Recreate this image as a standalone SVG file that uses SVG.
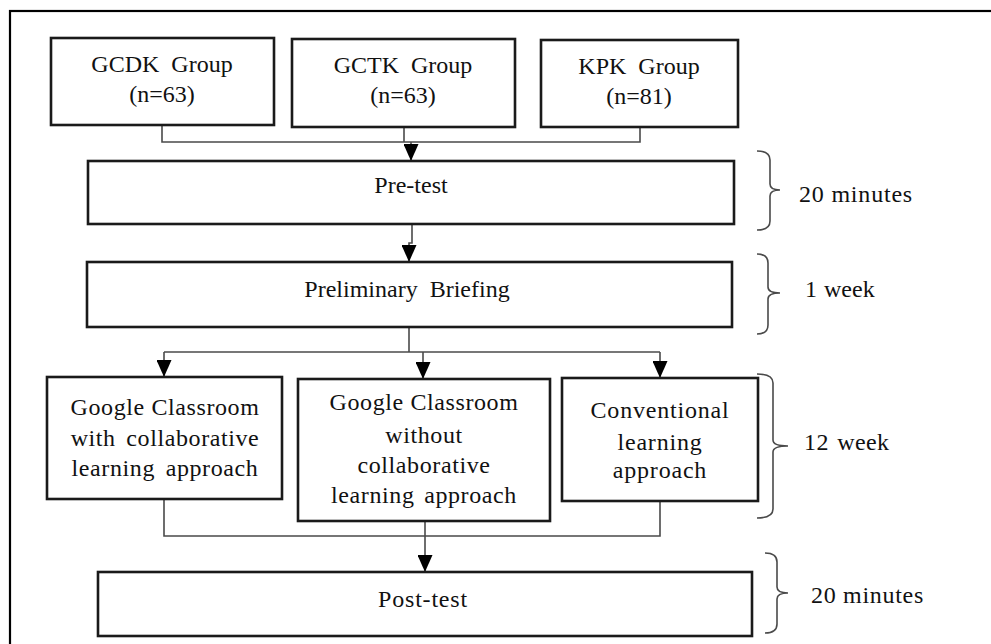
<svg xmlns="http://www.w3.org/2000/svg" width="991" height="644" viewBox="0 0 991 644">
<style>
.box{fill:#fff;stroke:#1a1a1a;stroke-width:2.6}
text{font-family:"Liberation Serif","Times New Roman",serif;font-size:24px;fill:#111}
.lbl{text-anchor:middle}
.con{fill:none;stroke:#4a4a4a;stroke-width:1.6}
.brace{fill:none;stroke:#4a4a4a;stroke-width:1.6}
</style>
<defs>
<marker id="arr" markerUnits="userSpaceOnUse" markerWidth="17" markerHeight="15" refX="17" refY="7.5" orient="auto">
<path d="M0,0 L17,7.5 L0,15 z" fill="#000"/>
</marker>
</defs>
<rect x="10" y="11" width="1000" height="700" fill="#fff" stroke="#000" stroke-width="2.2"/>

<g id="connectors">
<path class="con" d="M162,125 V142 H640 V127"/>
<path class="con" d="M404,127 V142"/>
<path class="con" d="M411,142 V161" marker-end="url(#arr)"/>
<path class="con" d="M412,224 V243 H409 V262" marker-end="url(#arr)"/>
<path class="con" d="M409,327 V352"/>
<path class="con" d="M164,352 H660"/>
<path class="con" d="M164,352 V377" marker-end="url(#arr)"/>
<path class="con" d="M423,352 V379" marker-end="url(#arr)"/>
<path class="con" d="M660,352 V378" marker-end="url(#arr)"/>
<path class="con" d="M164,499 V536 H660 V501"/>
<path class="con" d="M425,521 V572" marker-end="url(#arr)"/>
</g>

<g id="gcdk">
<rect class="box" x="51" y="38" width="223" height="87"/>
<text class="lbl" x="162" y="72" word-spacing="6">GCDK Group</text>
<text class="lbl" x="162" y="102">(n=63)</text>
</g>
<g id="gctk">
<rect class="box" x="292" y="39" width="223" height="88"/>
<text class="lbl" x="403" y="73" word-spacing="6">GCTK Group</text>
<text class="lbl" x="403" y="103">(n=63)</text>
</g>
<g id="kpk">
<rect class="box" x="541" y="40" width="197" height="87"/>
<text class="lbl" x="639" y="74" word-spacing="6">KPK Group</text>
<text class="lbl" x="639" y="104">(n=81)</text>
</g>

<g id="pretest">
<rect class="box" x="88" y="161" width="646" height="63"/>
<text class="lbl" x="411" y="193" font-size="25">Pre-test</text>
</g>
<g id="briefing">
<rect class="box" x="87" y="262" width="645" height="65"/>
<text class="lbl" x="407" y="297" word-spacing="6">Preliminary Briefing</text>
</g>

<g id="gc-collab">
<rect class="box" x="47" y="377" width="235" height="122"/>
<text class="lbl" x="165" y="415" letter-spacing="0.6">Google Classroom</text>
<text class="lbl" x="165" y="446" letter-spacing="0.6" word-spacing="4">with collaborative</text>
<text class="lbl" x="165" y="476" letter-spacing="0.6" word-spacing="4">learning approach</text>
</g>
<g id="gc-nocollab">
<rect class="box" x="298" y="379" width="252" height="142"/>
<text class="lbl" x="424" y="410" letter-spacing="0.6">Google Classroom</text>
<text class="lbl" x="424" y="443" letter-spacing="0.6">without</text>
<text class="lbl" x="424" y="473" letter-spacing="0.6">collaborative</text>
<text class="lbl" x="424" y="503" letter-spacing="0.6" word-spacing="3">learning approach</text>
</g>
<g id="conventional">
<rect class="box" x="562" y="378" width="196" height="123"/>
<text class="lbl" x="660" y="418" letter-spacing="0.8">Conventional</text>
<text class="lbl" x="660" y="450" letter-spacing="0.8">learning</text>
<text class="lbl" x="660" y="478" letter-spacing="0.8">approach</text>
</g>

<g id="posttest">
<rect class="box" x="98" y="572" width="654" height="64"/>
<text class="lbl" x="423" y="607" font-size="25" letter-spacing="0.8">Post-test</text>
</g>

<g id="timing">
<path class="brace" d="M757,151 Q770,151 770,160 V184 Q770,190 780,190 Q770,190 770,196 V221 Q770,230 757,230"/>
<text x="799" y="202" letter-spacing="0.8">20 minutes</text>
<path class="brace" d="M757,254 Q768,254 768,263 V287 Q768,293 780,293 Q768,293 768,299 V325 Q768,334 757,334"/>
<text x="805" y="297" word-spacing="1">1 week</text>
<path class="brace" d="M757,374 Q773,374 773,383 V440 Q773,446 788,446 Q773,446 773,452 V509 Q773,518 757,518"/>
<text x="804" y="450" letter-spacing="0.4" word-spacing="2">12 week</text>
<path class="brace" d="M765,553 Q777,553 777,562 V587 Q777,593 788,593 Q777,593 777,599 V624 Q777,633 765,633"/>
<text x="811" y="603" letter-spacing="0.7">20 minutes</text>
</g>
</svg>
